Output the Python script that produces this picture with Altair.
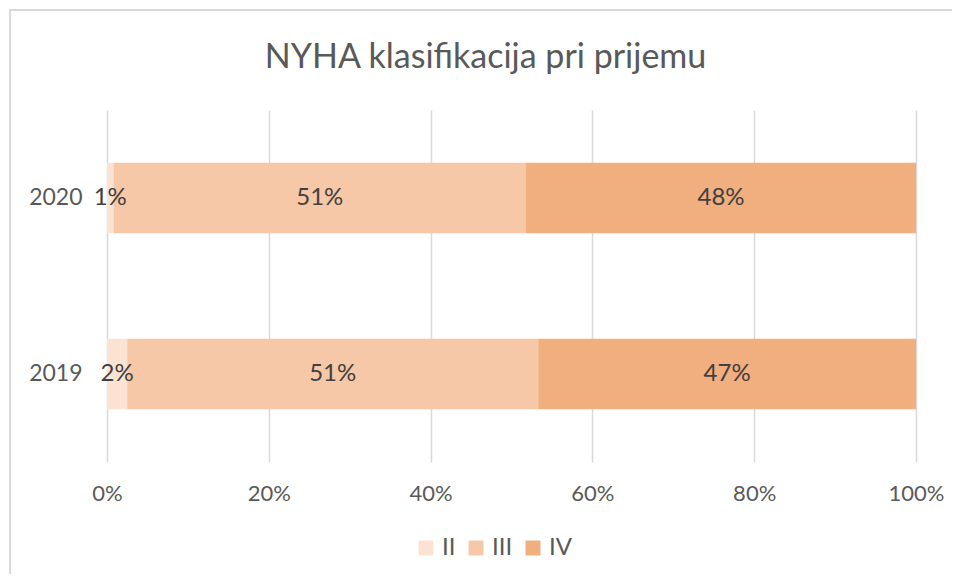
import altair as alt
import pandas as pd

years = ["2020", "2019"]
classes = ["II", "III", "IV"]
vals_2020 = [0.8, 51.0, 48.2]
vals_2019 = [2.5, 50.8, 46.7]
labels_2020 = ["1%", "51%", "48%"]
labels_2019 = ["2%", "51%", "47%"]
colors = ["#FBE3D3", "#F7C8A7", "#F1AE7E"]

rows = []
for y, vals, labs in [("2020", vals_2020, labels_2020), ("2019", vals_2019, labels_2019)]:
    for i, (c, v, l) in enumerate(zip(classes, vals, labs)):
        rows.append({"year": y, "cls": c, "value": v, "label": l, "ord": i})
df = pd.DataFrame(rows)

FONT = "Lato"

base = alt.Chart(df).transform_stack(
    stack="value", groupby=["year"], as_=["x0", "x1"],
    sort=[alt.SortField("ord", order="ascending")]
).transform_calculate(mid="(datum.x0 + datum.x1) / 2")

yenc = alt.Y("year:N", sort=years, title=None,
             scale=alt.Scale(paddingInner=0.6, paddingOuter=0.3),
             axis=alt.Axis(ticks=False, domain=False, labelPadding=25,
                           labelFontSize=23, labelColor="#595959", labelFont=FONT))

bars = base.mark_bar().encode(
    x=alt.X("x0:Q", scale=alt.Scale(domain=[0, 100], nice=False), title=None,
            axis=alt.Axis(values=[0, 20, 40, 60, 80, 100], labelExpr="datum.value + '%'",
                          ticks=False, domain=False, grid=True, gridColor="#D9D9D9",
                          gridWidth=1.5, labelPadding=21, labelFontSize=22,
                          labelFlush=False,
                          labelColor="#595959", labelFont=FONT)),
    x2="x1:Q",
    y=yenc,
    color=alt.Color("cls:N", scale=alt.Scale(domain=classes, range=colors), title=None,
                    legend=alt.Legend(orient="none", legendX=307, legendY=426,
                                      direction="horizontal", symbolType="square",
                                      symbolSize=225, symbolStrokeWidth=0,
                                      labelFontSize=24, labelColor="#595959",
                                      labelFont=FONT, columnPadding=8, padding=0,
                                      labelOffset=4)),
)

texts = base.mark_text(fontSize=24, color="#404040", font=FONT).encode(
    x="mid:Q",
    y=alt.Y("year:N", sort=years),
    text="label:N",
)

frame = alt.Chart(pd.DataFrame({"a": [0]})).mark_rect(
    fillOpacity=0, stroke="#D9D9D9", strokeWidth=2
).encode(x=alt.value(-97), x2=alt.value(1000), y=alt.value(-100), y2=alt.value(700))

chart = alt.layer(frame, bars, texts).properties(
    width=809, height=352,
    title=alt.TitleParams("NYHA klasifikacija pri prijemu", fontSize=34, font=FONT,
                          fontWeight="normal", color="#595959", anchor="middle",
                          frame="group", dx=-26, offset=-66),
    autosize=alt.AutoSizeParams(type="none"),
    padding={"left": 99, "top": 102, "right": 36, "bottom": 112},
).configure_view(stroke=None)

chart.save("out.html", embed_options={"renderer": "svg", "actions": False})
